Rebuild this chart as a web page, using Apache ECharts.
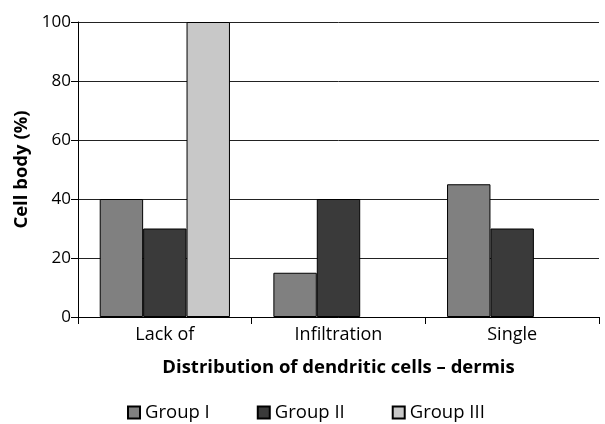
<!DOCTYPE html>
<html>
<head>
<meta charset="utf-8">
<script src="https://cdn.jsdelivr.net/npm/echarts@6/dist/echarts.min.js"></script>
<style>
  html, body { margin: 0; padding: 0; background: #fff; }
  #chart { width: 605px; height: 424px; }
</style>
</head>
<body>
<div id="chart"></div>
<script>
// Distribution of dendritic cells in the dermis, per group
const categories = ['Lack of', 'Infiltration', 'Single'];
const groupI = [40, 15, 45];
const groupII = [30, 40, 30];
const groupIII = [100, null, null];
const yTicks = [0, 20, 40, 60, 80, 100];

const FONT = '"Open Sans", "Noto Sans", sans-serif';

function barSeries(name, data, color) {
  return {
    name: name,
    type: 'bar',
    data: data,
    barGap: '0%',
    barCategoryGap: '25%',
    itemStyle: { color: color, borderColor: '#000', borderWidth: 1 }
  };
}

const chart = echarts.init(document.getElementById('chart'));
chart.setOption({
  animation: false,
  backgroundColor: '#fff',
  textStyle: { fontFamily: FONT, color: '#000' },
  grid: { left: 78, right: 6, top: 22, bottom: 107 },
  legend: {
    left: 122,
    top: 398,
    itemWidth: 12,
    itemHeight: 12,
    itemGap: 47,
    icon: 'rect',
    textStyle: { fontFamily: FONT, fontSize: 18.5, color: '#000' },
    data: ['Group I', 'Group II', 'Group III']
  },
  xAxis: {
    type: 'category',
    data: categories,
    name: 'Distribution of dendritic cells – dermis',
    nameLocation: 'middle',
    nameGap: 41,
    nameTextStyle: { fontFamily: FONT, fontSize: 18.5, fontWeight: 'bold', color: '#000' },
    axisLine: { lineStyle: { color: '#000', width: 1 } },
    axisTick: { show: true, length: 7, interval: 0, lineStyle: { color: '#000' } },
    axisLabel: { fontFamily: FONT, fontSize: 18, color: '#000', margin: 9 }
  },
  yAxis: {
    type: 'value',
    min: yTicks[0],
    max: yTicks[yTicks.length - 1],
    interval: 20,
    name: 'Cell body (%)',
    nameLocation: 'middle',
    nameGap: 46,
    nameTextStyle: { fontFamily: FONT, fontSize: 18.5, fontWeight: 'bold', color: '#000' },
    axisLine: { show: true, lineStyle: { color: '#000', width: 1 } },
    axisTick: { show: true, length: 7, lineStyle: { color: '#000' } },
    axisLabel: { fontFamily: FONT, fontSize: 17, color: '#000', margin: 7 },
    splitLine: { show: true, lineStyle: { color: '#222', width: 1 } }
  },
  series: [
    barSeries('Group I', groupI, '#808080'),
    barSeries('Group II', groupII, '#3a3a3a'),
    barSeries('Group III', groupIII, '#c8c8c8')
  ]
});
</script>
</body>
</html>
